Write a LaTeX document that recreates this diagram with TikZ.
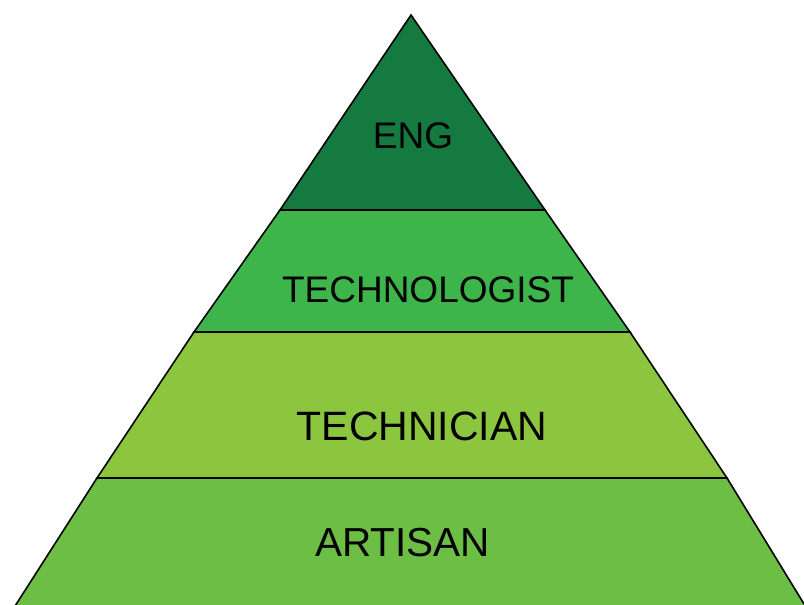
\documentclass[tikz,border=0pt]{standalone}
\usepackage{fontspec}
\setmainfont{Liberation Sans}
\definecolor{engc}{RGB}{21,122,63}
\definecolor{techlc}{RGB}{61,181,74}
\definecolor{techc}{RGB}{140,198,63}
\definecolor{artc}{RGB}{109,190,69}
\begin{document}
\begin{tikzpicture}[x=1pt,y=-1pt,
  layer/.style={draw=black,line width=1.6pt,line join=miter},
  lbl/.style={inner sep=0pt,anchor=base,text=black}]
\useasboundingbox (0,0) rectangle (804,605);
\begin{scope}
\clip (0,0) rectangle (804,605);
\path[layer,fill=artc] (97,478) -- (727,478) -- (812,617) -- (8,617) -- cycle;
\path[layer,fill=techc] (194,332) -- (630,332) -- (727,478) -- (97,478) -- cycle;
\path[layer,fill=techlc] (280,210) -- (545,210) -- (630,332) -- (194,332) -- cycle;
\path[layer,fill=engc] (411,15) -- (545,210) -- (280,210) -- cycle;
\end{scope}
\node[lbl,font=\fontsize{37}{40}\selectfont] (eng) at (413,148) {ENG};
\node[lbl,font=\fontsize{37}{40}\selectfont] (tlg) at (428,302) {TECHNOLOGIST};
\node[lbl,font=\fontsize{41}{44}\selectfont] (tcn) at (422,440) {TECHNICIAN};
\node[lbl,font=\fontsize{40.5}{44}\selectfont] (art) at (402.5,556) {ARTISAN};
\end{tikzpicture}
\end{document}
